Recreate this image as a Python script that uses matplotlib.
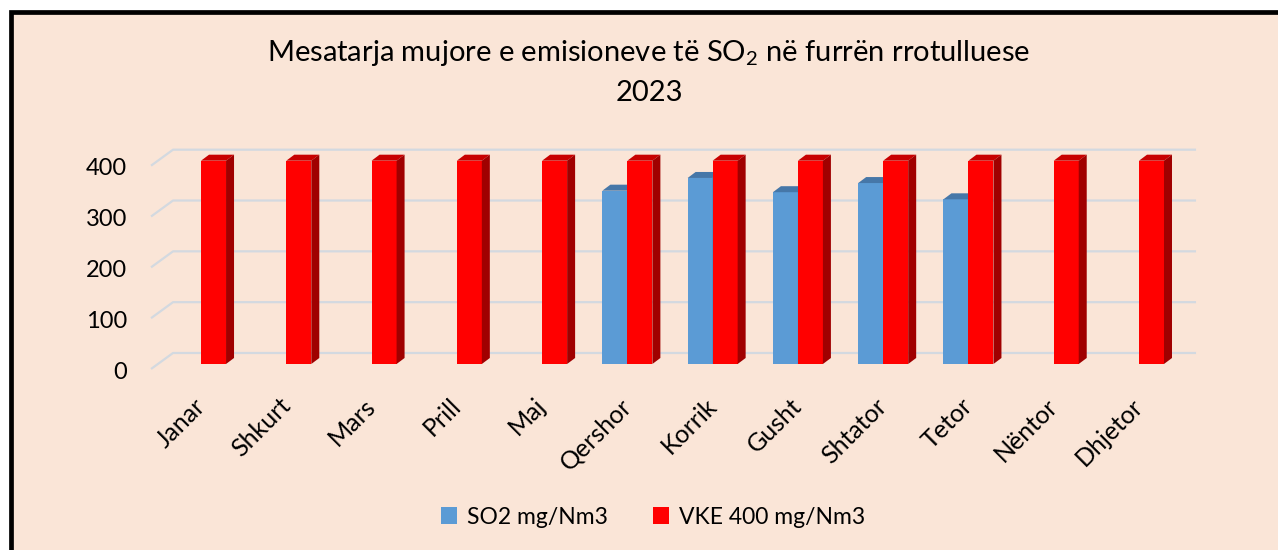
import matplotlib
matplotlib.use("Agg")
import matplotlib.pyplot as plt
import matplotlib.transforms as mtransforms
from matplotlib.patches import Rectangle, Polygon
import numpy as np

months = ["Janar", "Shkurt", "Mars", "Prill", "Maj", "Qershor",
          "Korrik", "Gusht", "Shtator", "Tetor", "Nëntor", "Dhjetor"]
so2 = [np.nan, np.nan, np.nan, np.nan, np.nan, 341, 366, 338, 356, 324, np.nan, np.nan]
vke = [400] * 12
y_ticks = [0, 100, 200, 300, 400]

plt.rcParams["font.family"] = ["Lato", "DejaVu Sans"]
plt.rcParams["mathtext.fontset"] = "custom"
plt.rcParams["mathtext.rm"] = "Lato"

W, H = 1278, 550
BG = "#fae5d7"
GRID = "#d3d9e0"
BLUE, BLUE_TOP = "#5b9bd5", "#4677a8"
RED, RED_TOP, RED_SIDE = "#ff0000", "#c80000", "#a00000"

fig = plt.figure(figsize=(W / 100, H / 100), dpi=100)
fig.patch.set_facecolor("white")
# chart frame: only left/top edges fall inside the picture
fig.add_artist(Rectangle((10.5 / W, -0.1), 1.2, 1.1 - 12.5 / H,
                         transform=fig.transFigure, facecolor=BG,
                         edgecolor="black", linewidth=3.4, zorder=0))

# axes placed in pixels
ax_l, ax_r, ax_t, ax_b = 130, 1220, 140, 380
ax = fig.add_axes([ax_l / W, 1 - ax_b / H, (ax_r - ax_l) / W, (ax_b - ax_t) / H])
ax.set_facecolor("none")
ax.set_xlim(-0.833, 11.95)
ax.set_ylim(-31.5, 440.7)
for s in ax.spines.values():
    s.set_visible(False)

ppx = (ax_r - ax_l) / (ax.get_xlim()[1] - ax.get_xlim()[0])
ppy = (ax_b - ax_t) / (ax.get_ylim()[1] - ax.get_ylim()[0])


def dx(p):
    return p / ppx


def dy(p):
    return p / ppy


# back wall gridlines with the oblique floor edge at the left
back = dy(11)
gx0, gx1, gfront = dx(173 - 201), dx(1196 - 201), dx(151 - 201)
for v in y_ticks:
    ax.plot([gfront, gx0, gx1], [v + back - dy(16), v + back, v + back],
            color=GRID, lw=1.6, zorder=1, solid_capstyle="butt")

x = np.arange(len(months))
bw = dx(25)
ox, oy = dx(8), dy(6)


def box(xs, vals, front, top, side, label):
    bars = ax.bar(xs, vals, width=bw, align="edge", color=front,
                  linewidth=0, zorder=3, label=label)
    for xi, v in zip(xs, vals):
        if np.isnan(v):
            continue
        ax.add_patch(Polygon([(xi, v), (xi + bw, v), (xi + bw + ox, v + oy), (xi + ox, v + oy)],
                             closed=True, facecolor=top, linewidth=0, zorder=3))
        ax.add_patch(Polygon([(xi + bw, 0), (xi + bw, v), (xi + bw + ox, v + oy), (xi + bw + ox, oy)],
                             closed=True, facecolor=side, linewidth=0, zorder=3))
    return bars


box(x - bw, so2, BLUE, BLUE_TOP, BLUE_TOP, "SO2 mg/Nm3")
box(x, vke, RED, RED_TOP, RED_SIDE, "VKE 400 mg/Nm3")

ax.set_yticks(np.array(y_ticks) - 12, labels=[str(v) for v in y_ticks])
ax.set_xticks(x, labels=months)
ax.tick_params(axis="y", length=0, pad=2, labelsize=17)
ax.tick_params(axis="x", length=0, pad=10, labelsize=18)
shift = mtransforms.ScaledTranslation(-0.08, 0, fig.dpi_scale_trans)
for lbl in ax.get_xticklabels():
    lbl.set_rotation(45)
    lbl.set_ha("right")
    lbl.set_va("top")
    lbl.set_rotation_mode("anchor")
    lbl.set_transform(lbl.get_transform() + shift)

fig.text(649 / W, 1 - 53 / H,
         r"Mesatarja mujore e emisioneve të SO$_{\mathregular{2}}$ në furrën rrotulluese",
         ha="center", va="center", fontsize=21)
fig.text(649 / W, 1 - 93 / H, "2023", ha="center", va="center", fontsize=21)

fig.legend(loc="center", bbox_to_anchor=(653 / W, 1 - 517 / H), ncol=2,
           frameon=False, fontsize=16.5, handlelength=0.7, handleheight=0.7,
           handletextpad=0.4, columnspacing=2.0)

fig.savefig("out.png", dpi=100, facecolor=fig.get_facecolor())
